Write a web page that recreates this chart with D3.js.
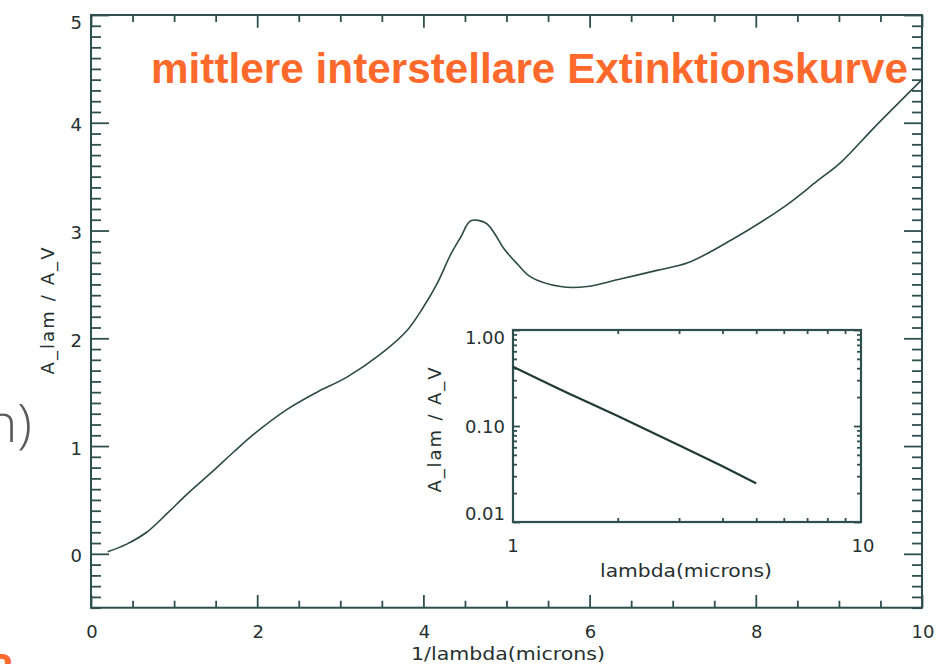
<!DOCTYPE html>
<html>
<head>
<meta charset="utf-8">
<script src="https://cdn.jsdelivr.net/npm/d3@7"></script>
<style>
  html, body { margin: 0; padding: 0; background: #fff; }
  svg { display: block; }
</style>
</head>
<body>
<svg id="chart" width="952" height="664"></svg>
<script>
// Mean interstellar extinction curve A_lam / A_V against inverse wavelength
const invWavelength = [0.20, 0.43, 0.67, 0.91, 1.15, 1.47, 1.71, 1.96, 2.36, 2.72,
                       3.08, 3.48, 3.80, 4.00, 4.16, 4.33, 4.45, 4.57, 4.75, 4.85,
                       4.97, 5.13, 5.29, 5.65, 5.97, 6.37, 6.81, 7.18, 7.70, 8.34,
                       8.74, 9.02, 9.43, 10.0];
const extinction    = [0.02, 0.09, 0.20, 0.37, 0.55, 0.77, 0.94, 1.11, 1.34, 1.50,
                       1.64, 1.85, 2.07, 2.29, 2.50, 2.78, 2.94, 3.09, 3.07, 2.98,
                       2.83, 2.69, 2.57, 2.48, 2.48, 2.55, 2.63, 2.70, 2.91, 3.22,
                       3.46, 3.63, 3.96, 4.40];

// Infrared part on log-log axes (wavelength in microns)
const insetWavelength = [1.0, 1.5, 2.0, 3.0, 4.0, 5.0];
const insetExtinction = [0.415, 0.205, 0.127, 0.063, 0.038, 0.0253];

// Tick labels
const xTickLabels = [0, 2, 4, 6, 8, 10];
const yTickLabels = [0, 1, 2, 3, 4, 5];
const insetXTickValues = [1, 10];
const insetXTickLabels = ["1", "10"];
const insetYTickValues = [1, 0.1, 0.01];
const insetYTickLabels = ["1.00", "0.10", "0.01"];

const titleText = "mittlere interstellare Extinktionskurve";
const xTitle = "1/lambda(microns)";
const yTitle = "A_lam / A_V";
const insetXTitle = "lambda(microns)";

const svg = d3.select("#chart");
const ink = "#2f4f4f";
const textInk = "#26302f";
const tickFont = "'DejaVu Sans', sans-serif";

// ---------- main panel ----------
const x = d3.scaleLinear().domain([0, 10]).range([91, 922]);
const y = d3.scaleLinear().domain([-0.5, 5]).range([607.7, 15]);
const [L, R] = x.range();
const [B, T] = y.range();

const xMinor = d3.range(0, 10.001, 0.5).filter(v => Math.abs(v % 2) > 1e-6);
const yMinor = d3.range(-5, 51).map(i => i / 10).filter(v => Math.abs(v - Math.round(v)) > 1e-6);

function ticks(axisFn, scale, values, size, transform) {
  const g = svg.append("g")
    .attr("transform", transform)
    .call(axisFn(scale).tickValues(values).tickSize(size).tickFormat(""));
  g.select(".domain").remove();
  g.selectAll("line").attr("stroke", ink).attr("stroke-width", 1.8);
}

// bottom / top
ticks(d3.axisBottom, x, xTickLabels, -12.7, `translate(0,${B})`);
ticks(d3.axisBottom, x, xMinor, -7, `translate(0,${B})`);
ticks(d3.axisTop, x, xTickLabels, -12.7, `translate(0,${T})`);
ticks(d3.axisTop, x, xMinor, -7, `translate(0,${T})`);
// left / right
ticks(d3.axisLeft, y, yTickLabels, -18, `translate(${L},0)`);
ticks(d3.axisLeft, y, yMinor, -10, `translate(${L},0)`);
ticks(d3.axisRight, y, yTickLabels, -18, `translate(${R},0)`);
ticks(d3.axisRight, y, yMinor, -10, `translate(${R},0)`);

svg.append("rect")
  .attr("x", L).attr("y", T).attr("width", R - L).attr("height", B - T)
  .attr("fill", "none").attr("stroke", ink).attr("stroke-width", 2);

// tick labels
svg.append("g").selectAll("text").data(yTickLabels).join("text")
  .attr("x", 82).attr("y", d => Math.max(y(d) + 2, 22.5))
  .attr("text-anchor", "end").attr("dominant-baseline", "central")
  .attr("font-family", tickFont).attr("font-size", 18).attr("fill", textInk)
  .text(d => d);

svg.append("g").selectAll("text").data(xTickLabels).join("text")
  .attr("x", d => x(d) + 1).attr("y", 631)
  .attr("text-anchor", "middle").attr("dominant-baseline", "central")
  .attr("font-family", tickFont).attr("font-size", 18).attr("fill", textInk)
  .text(d => d);

// axis titles
svg.append("text")
  .attr("x", 508).attr("y", 653)
  .attr("text-anchor", "middle").attr("dominant-baseline", "central")
  .attr("font-family", tickFont).attr("font-size", 18).attr("fill", textInk)
  .attr("textLength", 194).attr("lengthAdjust", "spacingAndGlyphs")
  .text(xTitle);

svg.append("text")
  .attr("transform", "translate(47,311) rotate(-90)")
  .attr("text-anchor", "middle").attr("dominant-baseline", "central")
  .attr("font-family", tickFont).attr("font-size", 18).attr("fill", textInk)
  .attr("textLength", 127).attr("lengthAdjust", "spacing")
  .text(yTitle);

// curve
const curveData = invWavelength.map((v, i) => [v, extinction[i]]);
svg.append("path")
  .datum(curveData)
  .attr("fill", "none").attr("stroke", "#2d4a46").attr("stroke-width", 1.6)
  .attr("stroke-linejoin", "round")
  .attr("d", d3.line().x(d => x(d[0])).y(d => y(d[1])).curve(d3.curveCatmullRom.alpha(0.5)));

// ---------- inset panel ----------
const xi = d3.scaleLog().domain([1, 10]).range([513, 861]);
const yi = d3.scaleLog().domain([0.01, 1]).range([522, 330]);
const [iL, iR] = xi.range();
const [iB, iT] = yi.range();

svg.append("rect")
  .attr("x", iL).attr("y", iT).attr("width", iR - iL).attr("height", iB - iT)
  .attr("fill", "#fff").attr("stroke", "none");

const insetXMinor = d3.range(2, 10);
const insetYMinor = d3.range(2, 10).map(v => v / 100).concat(d3.range(2, 10).map(v => v / 10));

ticks(d3.axisBottom, xi, insetXMinor, -4, `translate(0,${iB})`);
ticks(d3.axisTop, xi, insetXMinor, -4, `translate(0,${iT})`);
ticks(d3.axisLeft, yi, insetYTickValues, -7, `translate(${iL},0)`);
ticks(d3.axisLeft, yi, insetYMinor, -4, `translate(${iL},0)`);
ticks(d3.axisRight, yi, insetYTickValues, -7, `translate(${iR},0)`);
ticks(d3.axisRight, yi, insetYMinor, -4, `translate(${iR},0)`);

svg.append("rect")
  .attr("x", iL).attr("y", iT).attr("width", iR - iL).attr("height", iB - iT)
  .attr("fill", "none").attr("stroke", ink).attr("stroke-width", 2.2);

svg.append("g").selectAll("text").data(insetYTickValues).join("text")
  .attr("x", 505).attr("y", d => Math.min(Math.max(yi(d), 337), 513))
  .attr("text-anchor", "end").attr("dominant-baseline", "central")
  .attr("font-family", tickFont).attr("font-size", 18).attr("fill", textInk)
  .text((d, i) => insetYTickLabels[i]);

svg.append("g").selectAll("text").data(insetXTickValues).join("text")
  .attr("x", d => xi(d) + (d === 10 ? 2 : 0)).attr("y", 545)
  .attr("text-anchor", "middle").attr("dominant-baseline", "central")
  .attr("font-family", tickFont).attr("font-size", 18).attr("fill", textInk)
  .text((d, i) => insetXTickLabels[i]);

svg.append("text")
  .attr("x", 686).attr("y", 570)
  .attr("text-anchor", "middle").attr("dominant-baseline", "central")
  .attr("font-family", tickFont).attr("font-size", 18).attr("fill", textInk)
  .attr("textLength", 172).attr("lengthAdjust", "spacingAndGlyphs")
  .text(insetXTitle);

svg.append("text")
  .attr("transform", "translate(434,430) rotate(-90)")
  .attr("text-anchor", "middle").attr("dominant-baseline", "central")
  .attr("font-family", tickFont).attr("font-size", 18).attr("fill", textInk)
  .attr("textLength", 125).attr("lengthAdjust", "spacing")
  .text(yTitle);

const insetData = insetWavelength.map((v, i) => [v, insetExtinction[i]]);
svg.append("path")
  .datum(insetData)
  .attr("fill", "none").attr("stroke", "#223a37").attr("stroke-width", 2.2)
  .attr("d", d3.line().x(d => xi(d[0])).y(d => yi(d[1])).curve(d3.curveMonotoneX));

// ---------- slide text around the plot ----------
svg.append("text")
  .attr("x", 151).attr("y", 83)
  .attr("font-family", "'Liberation Sans', Arial, sans-serif")
  .attr("font-weight", "bold").attr("font-size", 42)
  .attr("fill", "#ff6a2c")
  .attr("textLength", 757).attr("lengthAdjust", "spacingAndGlyphs")
  .text(titleText);

svg.append("text")
  .attr("x", 32).attr("y", 442)
  .attr("text-anchor", "end")
  .attr("font-family", "'Open Sans', Roboto, sans-serif")
  .attr("font-weight", 300).attr("font-size", 54)
  .attr("fill", "#5b5b5b")
  .text("n)");

svg.append("text")
  .attr("x", 13).attr("y", 683)
  .attr("text-anchor", "end")
  .attr("font-family", "'Liberation Sans', Arial, sans-serif")
  .attr("font-weight", "bold").attr("font-size", 42)
  .attr("fill", "#ff6a2c")
  .text("2");
</script>
</body>
</html>
